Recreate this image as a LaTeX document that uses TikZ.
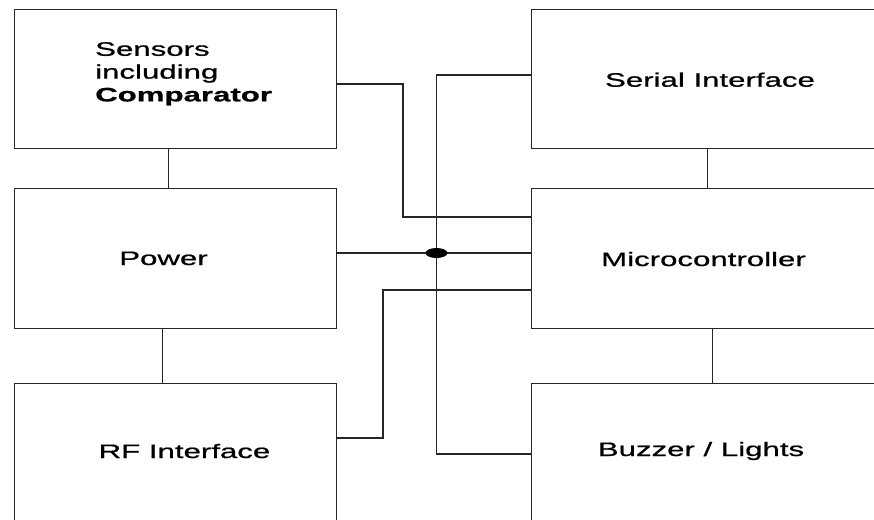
\documentclass[tikz,border=0pt]{standalone}
\usepackage{fontspec}
\newfontfamily\diafont[FakeStretch=1.6,FakeBold=0.8]{Liberation Sans}
\usetikzlibrary{shapes.geometric}
\begin{document}
\begin{tikzpicture}[x=1pt,y=-1pt,
  blockbox/.style={draw=black!85, line width=1.4pt, rectangle, inner sep=0pt, anchor=north west},
  lbl/.style={font=\diafont\fontsize{19.5}{22.8}\selectfont, inner sep=0pt, anchor=base},
  wire/.style={draw=black!85, line width=1.25pt}]
\clip (0,0) rectangle (874,519);
\fill[white] (0,0) rectangle (874,519);
% blocks
\node[blockbox, minimum width=322pt, minimum height=139pt] (sensors) at (14,9) {};
\node[blockbox, minimum width=322pt, minimum height=140pt] (power) at (14,188) {};
\node[blockbox, minimum width=322pt, minimum height=160pt] (rf) at (14,383) {};
\node[blockbox, minimum width=360pt, minimum height=139pt] (serial) at (531,9) {};
\node[blockbox, minimum width=360pt, minimum height=140pt] (micro) at (531,188) {};
\node[blockbox, minimum width=360pt, minimum height=160pt] (buzzer) at (531,383) {};
% labels
\node[lbl, anchor=west, align=left] (sensT) at (95,73.8) {Sensors\\including\\\textbf{Comparator}};
\node[lbl] (serialT) at (710,86.7) {Serial Interface};
\node[lbl] (powerT) at (163.5,265) {Power};
\node[lbl] (microT) at (703.5,266) {Microcontroller};
\node[lbl] (rfT) at (184.5,458) {RF Interface};
\node[lbl] (buzzT) at (701,456) {Buzzer / Lights};
% junction dot
\coordinate (jn) at (436.5,253);
% vertical links
\draw[wire] ([xshift=-7pt]sensors.south) -- ([xshift=-7pt]sensors.south |- power.north);
\draw[wire] ([xshift=-13pt]power.south) -- ([xshift=-13pt]power.south |- rf.north);
\draw[wire] ([xshift=-4pt]serial.south) -- ([xshift=-4pt]serial.south |- micro.north);
\draw[wire] ([xshift=1pt]micro.south) -- ([xshift=1pt]micro.south |- buzzer.north);
% routed links
\draw[wire] (sensors.east |- 0,84) -- (403,84) |- (micro.west |- 0,217);
\draw[wire] (serial.west |- 0,75) -| (jn) |- (buzzer.west |- 0,454);
\draw[wire] (power.east |- jn) -- (micro.west |- jn);
\draw[wire] (rf.east |- 0,438) -- (383,438) |- (micro.west |- 0,290);
\node[ellipse, fill=black, minimum width=22pt, minimum height=10pt, inner sep=0pt] (dot) at (jn) {};
\end{tikzpicture}
\end{document}
